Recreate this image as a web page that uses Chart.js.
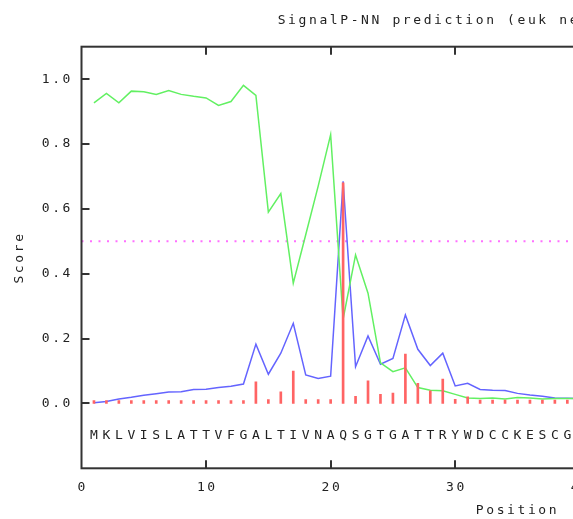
<!DOCTYPE html>
<html>
<head>
<meta charset="utf-8">
<script src="https://cdn.jsdelivr.net/npm/chart.js@4.4.1/dist/chart.umd.min.js"></script>
<style>
    html, body { margin: 0; padding: 0; overflow: hidden; background: #fff; }
    #wrap { width: 1035px; height: 519px; }
</style>
</head>
<body>
<div id="wrap"><canvas id="pe-chart-signalp" width="1035" height="519"></canvas></div>
<script>
(function() {
    'use strict';

    // Sequence positions and residues
    var positions = [1, 2, 3, 4, 5, 6, 7, 8, 9, 10, 11, 12, 13, 14, 15, 16, 17, 18, 19, 20,
        21, 22, 23, 24, 25, 26, 27, 28, 29, 30, 31, 32, 33, 34, 35, 36, 37, 38, 39, 40];
    var sequence = ['M', 'K', 'L', 'V', 'I', 'S', 'L', 'A', 'T', 'T', 'V', 'F', 'G', 'A', 'L', 'T', 'I', 'V', 'N', 'A',
        'Q', 'S', 'G', 'T', 'G', 'A', 'T', 'T', 'R', 'Y', 'W', 'D', 'C', 'C', 'K', 'E', 'S', 'C', 'G'];

    // C score (red impulses)
    var cScore = [0.009, 0.009, 0.009, 0.009, 0.009, 0.009, 0.009, 0.009, 0.009, 0.009, 0.009, 0.009, 0.009, 0.067, 0.012, 0.036, 0.100, 0.012, 0.012, 0.012,
        0.680, 0.022, 0.070, 0.028, 0.032, 0.152, 0.062, 0.039, 0.075, 0.013, 0.020, 0.010, 0.010, 0.010, 0.010, 0.010, 0.010, 0.010, 0.010, 0.010];
    // S score (green)
    var sScore = [0.927, 0.956, 0.927, 0.963, 0.961, 0.953, 0.965, 0.953, 0.947, 0.942, 0.919, 0.931, 0.981, 0.950, 0.590, 0.647, 0.371, 0.520, 0.670, 0.829,
        0.260, 0.458, 0.340, 0.125, 0.098, 0.110, 0.049, 0.041, 0.039, 0.028, 0.017, 0.015, 0.017, 0.014, 0.018, 0.017, 0.014, 0.015, 0.015, 0.015];
    // Y score (blue)
    var yScore = [0.002, 0.006, 0.014, 0.019, 0.025, 0.030, 0.035, 0.036, 0.043, 0.044, 0.049, 0.053, 0.060, 0.183, 0.090, 0.155, 0.247, 0.088, 0.077, 0.084,
        0.685, 0.113, 0.208, 0.121, 0.139, 0.273, 0.167, 0.117, 0.155, 0.054, 0.062, 0.043, 0.041, 0.040, 0.031, 0.026, 0.022, 0.017, 0.016, 0.015];

    var cutoff = 0.5;
    var xTicks = [0, 10, 20, 30, 40, 50, 60, 70];
    var yTicks = [0, 0.2, 0.4, 0.6, 0.8, 1.0];

    var FONT = "'DejaVu Sans Mono', monospace";
    var INK = '#222222';
    var SPACING = 2.6;

    function pts(values) {
        var out = [];
        for (var i = 0; i < values.length; i++) {
            out.push({ x: positions[i], y: values[i] });
        }
        return out;
    }

    // frame, inward tick marks, x tick labels and residue letters
    var decor = {
        id: 'signalpDecor',
        beforeUpdate: function(chart) { chart.ctx.letterSpacing = SPACING + 'px'; },
        beforeDraw: function(chart) { chart.ctx.letterSpacing = SPACING + 'px'; },
        afterDraw: function(chart) {
            var ctx = chart.ctx;
            var a = chart.chartArea;
            var xs = chart.scales.x;
            var ys = chart.scales.y;
            var i, px;

            ctx.save();
            ctx.strokeStyle = '#333333';
            ctx.lineWidth = 2;
            ctx.strokeRect(a.left, a.top, a.right - a.left, a.bottom - a.top);

            ctx.beginPath();
            for (i = 0; i < xTicks.length; i++) {
                if (xTicks[i] <= xs.min || xTicks[i] >= xs.max) continue;
                px = Math.round(xs.getPixelForValue(xTicks[i]));
                ctx.moveTo(px, a.top); ctx.lineTo(px, a.top + 8);
                ctx.moveTo(px, a.bottom); ctx.lineTo(px, a.bottom - 8);
            }
            for (i = 0; i < yTicks.length; i++) {
                px = Math.round(ys.getPixelForValue(yTicks[i]));
                ctx.moveTo(a.left, px); ctx.lineTo(a.left + 8, px);
                ctx.moveTo(a.right, px); ctx.lineTo(a.right - 8, px);
            }
            ctx.stroke();

            ctx.fillStyle = INK;
            ctx.font = '13px ' + FONT;
            ctx.textAlign = 'center';
            ctx.textBaseline = 'middle';

            // x tick labels under the frame
            ctx.letterSpacing = SPACING + 'px';
            for (i = 0; i < xTicks.length; i++) {
                ctx.fillText(String(xTicks[i]), xs.getPixelForValue(xTicks[i]) + SPACING / 2, a.bottom + 19);
            }

            // residue letters inside the plot
            ctx.letterSpacing = '0px';
            var ly = ys.getPixelForValue(-0.1);
            for (i = 0; i < sequence.length; i++) {
                ctx.fillText(sequence[i], xs.getPixelForValue(positions[i]), ly);
            }
            ctx.restore();
        }
    };

    Chart.defaults.font.family = FONT;
    Chart.defaults.font.size = 13;
    Chart.defaults.color = INK;

    new Chart(document.getElementById('pe-chart-signalp').getContext('2d'), {
        type: 'bar',
        data: {
            datasets: [
                {
                    type: 'bar',
                    label: 'C score',
                    data: pts(cScore),
                    backgroundColor: '#ff6464',
                    barThickness: 2,
                    order: 0
                },
                {
                    type: 'line',
                    label: 'S score',
                    data: pts(sScore),
                    borderColor: '#62f062',
                    borderWidth: 1.5,
                    pointRadius: 0,
                    tension: 0,
                    order: 1
                },
                {
                    type: 'line',
                    label: 'Y score',
                    data: pts(yScore),
                    borderColor: '#6464ff',
                    borderWidth: 1.5,
                    pointRadius: 0,
                    tension: 0,
                    order: 2
                },
                {
                    type: 'line',
                    label: 'cutoff',
                    data: [{ x: 0, y: cutoff }, { x: 70, y: cutoff }],
                    borderColor: '#ff70ff',
                    borderWidth: 2,
                    borderDash: [2, 6.5],
                    pointRadius: 0,
                    order: 3
                }
            ]
        },
        options: {
            responsive: false,
            animation: false,
            layout: { padding: { left: 0, right: 81.5, top: 0, bottom: 0 } },
            scales: {
                x: {
                    type: 'linear',
                    min: 0,
                    max: 70,
                    offset: false,
                    grid: { display: false, drawTicks: false, offset: false },
                    border: { display: false },
                    afterBuildTicks: function(scale) {
                        scale.ticks = xTicks.map(function(v) { return { value: v }; });
                    },
                    afterFit: function(scale) { scale.height = 50.7; },
                    ticks: { display: false },
                    title: {
                        display: true,
                        text: 'Position',
                        padding: { top: 0, bottom: 0.5 }
                    }
                },
                y: {
                    min: -0.2,
                    max: 1.1,
                    grid: { display: false, drawTicks: false },
                    border: { display: false },
                    afterBuildTicks: function(scale) {
                        scale.ticks = yTicks.map(function(v) { return { value: v }; });
                    },
                    afterFit: function(scale) { scale.width = 81.5; },
                    ticks: {
                        padding: 8.5,
                        callback: function(v) { return Number(v).toFixed(1); }
                    },
                    title: {
                        display: true,
                        text: 'Score',
                        padding: { top: 11.5, bottom: 0 }
                    }
                }
            },
            plugins: {
                legend: { display: false },
                tooltip: { enabled: false },
                title: {
                    display: true,
                    fullSize: false,
                    text: 'SignalP-NN prediction (euk networks): Sequence',
                    color: INK,
                    font: { size: 13, weight: 'normal' },
                    padding: { top: 12.7, bottom: 18.4 }
                }
            }
        },
        plugins: [decor]
    });
})();
</script>
</body>
</html>
